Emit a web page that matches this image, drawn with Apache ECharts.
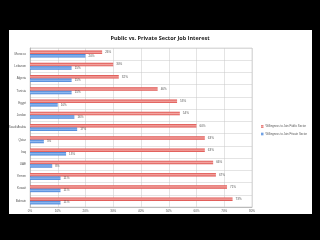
<!DOCTYPE html>
<html>
<head>
<meta charset="utf-8">
<script src="https://cdn.jsdelivr.net/npm/echarts@6/dist/echarts.min.js"></script>
<style>
  html, body { margin: 0; padding: 0; background: #000; }
  #chart { width: 320px; height: 240px; }
</style>
</head>
<body>
<div id="chart"></div>
<script>
const countries = ['Morocco', 'Lebanon', 'Algeria', 'Tunisia', 'Egypt', 'Jordan', 'Saudi Arabia', 'Qatar', 'Iraq', 'UAE', 'Yemen', 'Kuwait', 'Bahrain']
const publicSector = [26, 30, 32, 46, 53, 54, 60, 63, 63, 66, 67, 71, 73]
const privateSector = [20, 15, 15, 15, 10, 16, 17, 5, 13, 8, 11, 11, 11]
const seriesNames = ['Willingness to Join Public Sector', 'Willingness to Join Private Sector']

const chart = echarts.init(document.getElementById('chart'))

const barGrad = (edge, mid) => new echarts.graphic.LinearGradient(0, 0, 0, 1, [
  { offset: 0, color: edge },
  { offset: 0.5, color: mid },
  { offset: 1, color: edge }
])

const options = {
  backgroundColor: '#000',
  animation: false,
  graphic: [{
    type: 'rect',
    z: -10,
    shape: { x: 9, y: 30, width: 303, height: 184 },
    style: { fill: '#fff' }
  }],
  title: {
    text: 'Public vs. Private Sector Job Interest',
    left: 'center',
    top: 30,
    textStyle: { fontSize: 5.5, fontWeight: 'bold', color: '#222', fontFamily: 'Open Sans' }
  },
  legend: {
    orient: 'vertical',
    left: 256,
    top: 120,
    itemWidth: 2.5,
    itemHeight: 2.5,
    itemGap: 4.5,
    icon: 'rect',
    textStyle: { fontSize: 2.8, color: '#555', padding: [0, 0, 0, -3] },
    data: seriesNames
  },
  grid: {
    left: 30,
    right: 68,
    top: 48,
    bottom: 33,
    show: true,
    borderColor: '#bbb',
    borderWidth: 0.5
  },
  xAxis: {
    type: 'value',
    min: 0,
    max: 80,
    interval: 10,
    axisLabel: { formatter: '{value}%', fontSize: 3, color: '#555', margin: 3 },
    splitLine: { lineStyle: { color: '#c8c8c8', width: 0.5 } },
    axisLine: { show: true, lineStyle: { color: '#999', width: 0.5 } },
    axisTick: { show: false }
  },
  yAxis: {
    type: 'category',
    inverse: true,
    data: countries,
    axisLabel: { fontSize: 3, color: '#555', margin: 4 },
    axisLine: { show: true, lineStyle: { color: '#999', width: 0.5 } },
    axisTick: { show: false },
    splitLine: { show: true, lineStyle: { color: '#c8c8c8', width: 0.5 } }
  },
  series: [
    {
      name: seriesNames[0],
      type: 'bar',
      data: publicSector,
      barWidth: 3.5,
      barGap: '0%',
      itemStyle: { color: barGrad('#dc4a46', '#f3a6a2') },
      label: { show: true, position: 'right', formatter: '{c}%', fontSize: 3, color: '#555', distance: 3 }
    },
    {
      name: seriesNames[1],
      type: 'bar',
      data: privateSector,
      barWidth: 3.5,
      itemStyle: { color: barGrad('#3f7fd6', '#8fb8ef') },
      label: { show: true, position: 'right', formatter: '{c}%', fontSize: 3, color: '#555', distance: 3 }
    }
  ]
}

chart.setOption(options)
</script>
</body>
</html>
